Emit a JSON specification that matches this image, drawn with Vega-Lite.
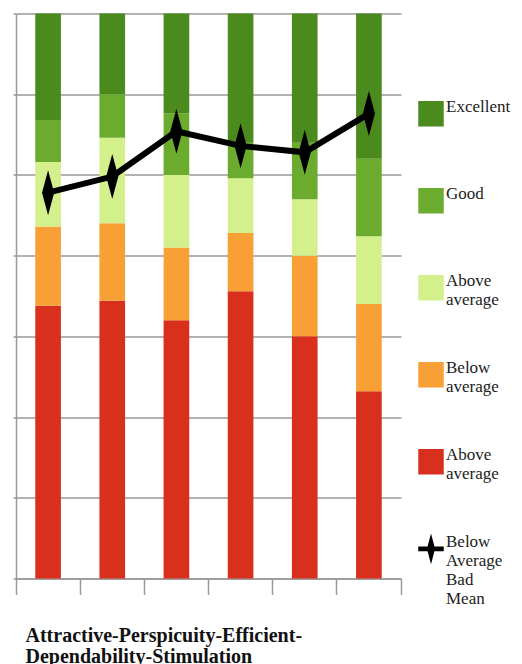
{
  "$schema": "https://vega.github.io/schema/vega-lite/v6.json",
  "width": 385,
  "height": 565,
  "autosize": {"type": "none"},
  "padding": {"left": 16, "top": 13.5, "right": 121, "bottom": 85.5},
  "config": {"view": {"stroke": null}, "font": "Times New Roman"},
  "datasets": {
    "bench": [
      {"scale": "Attractiveness", "category": "Bad", "lo": -1, "hi": 0.69},
      {"scale": "Attractiveness", "category": "Below average", "lo": 0.69, "hi": 1.18},
      {"scale": "Attractiveness", "category": "Above average", "lo": 1.18, "hi": 1.58},
      {"scale": "Attractiveness", "category": "Good", "lo": 1.58, "hi": 1.84},
      {"scale": "Attractiveness", "category": "Excellent", "lo": 1.84, "hi": 2.5},
      {"scale": "Perspicuity", "category": "Bad", "lo": -1, "hi": 0.72},
      {"scale": "Perspicuity", "category": "Below average", "lo": 0.72, "hi": 1.2},
      {"scale": "Perspicuity", "category": "Above average", "lo": 1.2, "hi": 1.73},
      {"scale": "Perspicuity", "category": "Good", "lo": 1.73, "hi": 2.0},
      {"scale": "Perspicuity", "category": "Excellent", "lo": 2.0, "hi": 2.5},
      {"scale": "Efficiency", "category": "Bad", "lo": -1, "hi": 0.6},
      {"scale": "Efficiency", "category": "Below average", "lo": 0.6, "hi": 1.05},
      {"scale": "Efficiency", "category": "Above average", "lo": 1.05, "hi": 1.5},
      {"scale": "Efficiency", "category": "Good", "lo": 1.5, "hi": 1.88},
      {"scale": "Efficiency", "category": "Excellent", "lo": 1.88, "hi": 2.5},
      {"scale": "Dependability", "category": "Bad", "lo": -1, "hi": 0.78},
      {"scale": "Dependability", "category": "Below average", "lo": 0.78, "hi": 1.14},
      {"scale": "Dependability", "category": "Above average", "lo": 1.14, "hi": 1.48},
      {"scale": "Dependability", "category": "Good", "lo": 1.48, "hi": 1.7},
      {"scale": "Dependability", "category": "Excellent", "lo": 1.7, "hi": 2.5},
      {"scale": "Stimulation", "category": "Bad", "lo": -1, "hi": 0.5},
      {"scale": "Stimulation", "category": "Below average", "lo": 0.5, "hi": 1.0},
      {"scale": "Stimulation", "category": "Above average", "lo": 1.0, "hi": 1.35},
      {"scale": "Stimulation", "category": "Good", "lo": 1.35, "hi": 1.7},
      {"scale": "Stimulation", "category": "Excellent", "lo": 1.7, "hi": 2.5},
      {"scale": "Novelty", "category": "Bad", "lo": -1, "hi": 0.16},
      {"scale": "Novelty", "category": "Below average", "lo": 0.16, "hi": 0.7},
      {"scale": "Novelty", "category": "Above average", "lo": 0.7, "hi": 1.12},
      {"scale": "Novelty", "category": "Good", "lo": 1.12, "hi": 1.6},
      {"scale": "Novelty", "category": "Excellent", "lo": 1.6, "hi": 2.5}
    ],
    "means": [
      {"scale": "Attractiveness", "mean": 1.39},
      {"scale": "Perspicuity", "mean": 1.49},
      {"scale": "Efficiency", "mean": 1.77},
      {"scale": "Dependability", "mean": 1.68},
      {"scale": "Stimulation", "mean": 1.64},
      {"scale": "Novelty", "mean": 1.88}
    ]
  },
  "layer": [
    {
      "data": {"name": "bench"},
      "mark": {"type": "bar", "width": {"band": 0.4}},
      "encoding": {
        "x": {
          "field": "scale",
          "type": "nominal",
          "sort": ["Attractiveness", "Perspicuity", "Efficiency", "Dependability", "Stimulation", "Novelty"],
          "scale": {"paddingInner": 0, "paddingOuter": 0},
          "axis": {
            "labels": false,
            "grid": false,
            "domain": true,
            "domainColor": "#999999",
            "domainWidth": 1.5,
            "ticks": true,
            "tickColor": "#999999",
            "tickWidth": 1.5,
            "tickSize": 16,
            "bandPosition": 1,
            "tickExtra": true,
            "title": ["Attractive-Perspicuity-Efficient-", "Dependability-Stimulation"],
            "titleFont": "Times New Roman",
            "titleFontWeight": "bold",
            "titleFontSize": 20,
            "titleColor": "#111111",
            "titleLineHeight": 21,
            "titleAnchor": "start",
            "titleAlign": "left",
            "titleBaseline": "alphabetic",
            "titleX": 9,
            "titleY": 63
          }
        },
        "y": {
          "field": "lo",
          "type": "quantitative",
          "scale": {"domain": [-1, 2.5], "nice": false, "zero": false},
          "axis": {
            "values": [-1, -0.5, 0, 0.5, 1, 1.5, 2, 2.5],
            "labels": false,
            "title": null,
            "domain": true,
            "domainColor": "#999999",
            "domainWidth": 1.5,
            "ticks": true,
            "tickSize": 3,
            "tickColor": "#999999",
            "tickWidth": 1.5,
            "grid": true,
            "gridColor": "#999999",
            "gridWidth": 1.5,
            "gridOpacity": 1
          }
        },
        "y2": {"field": "hi"},
        "color": {
          "field": "category",
          "type": "nominal",
          "scale": {
            "domain": ["Excellent", "Good", "Above average", "Below average", "Bad", "Mean"],
            "range": ["#4b8a1c", "#6bab2d", "#d3f08c", "#f8a036", "#d9301e", "#000000"]
          },
          "legend": {
            "orient": "none",
            "legendX": 402,
            "legendY": 57,
            "title": null,
            "padding": 0,
            "rowPadding": 0,
            "clipHeight": 86.7,
            "symbolSize": 650,
            "symbolStrokeWidth": 0,
            "symbolOpacity": 1,
            "labelFont": "Times New Roman",
            "labelFontSize": 17,
            "labelColor": "#222222",
            "labelBaseline": "top",
            "labelOffset": 2,
            "labelExpr": "datum.value == 'Above average' ? ['Above', 'average'] : datum.value == 'Below average' ? ['Below', 'average'] : datum.value == 'Bad' ? ['Above', 'average'] : datum.value == 'Mean' ? ['Below', 'Average', 'Bad', 'Mean'] : datum.label",
            "encode": {
              "symbols": {
                "update": {
                  "shape": {"signal": "datum.value == 'Mean' ? 'M-1,-0.18L1,-0.18L1,0.18L-1,0.18Z M0,-1.2L0.32,0L0,1.2L-0.32,0Z' : 'square'"}
                }
              },
              "labels": {
                "update": {
                  "dy": {"value": -15},
                  "lineHeight": {"value": 19}
                }
              }
            }
          }
        }
      }
    },
    {
      "data": {"name": "means"},
      "mark": {"type": "line", "color": "#000000", "strokeWidth": 6},
      "encoding": {
        "x": {"field": "scale", "type": "nominal", "sort": ["Attractiveness", "Perspicuity", "Efficiency", "Dependability", "Stimulation", "Novelty"]},
        "y": {"field": "mean", "type": "quantitative"}
      }
    },
    {
      "data": {"name": "means"},
      "mark": {"type": "point", "shape": "M0,-1L0.27,0L0,1L-0.27,0Z", "filled": true, "color": "#000000", "size": 2025, "opacity": 1},
      "encoding": {
        "x": {"field": "scale", "type": "nominal", "sort": ["Attractiveness", "Perspicuity", "Efficiency", "Dependability", "Stimulation", "Novelty"]},
        "y": {"field": "mean", "type": "quantitative"}
      }
    }
  ]
}
